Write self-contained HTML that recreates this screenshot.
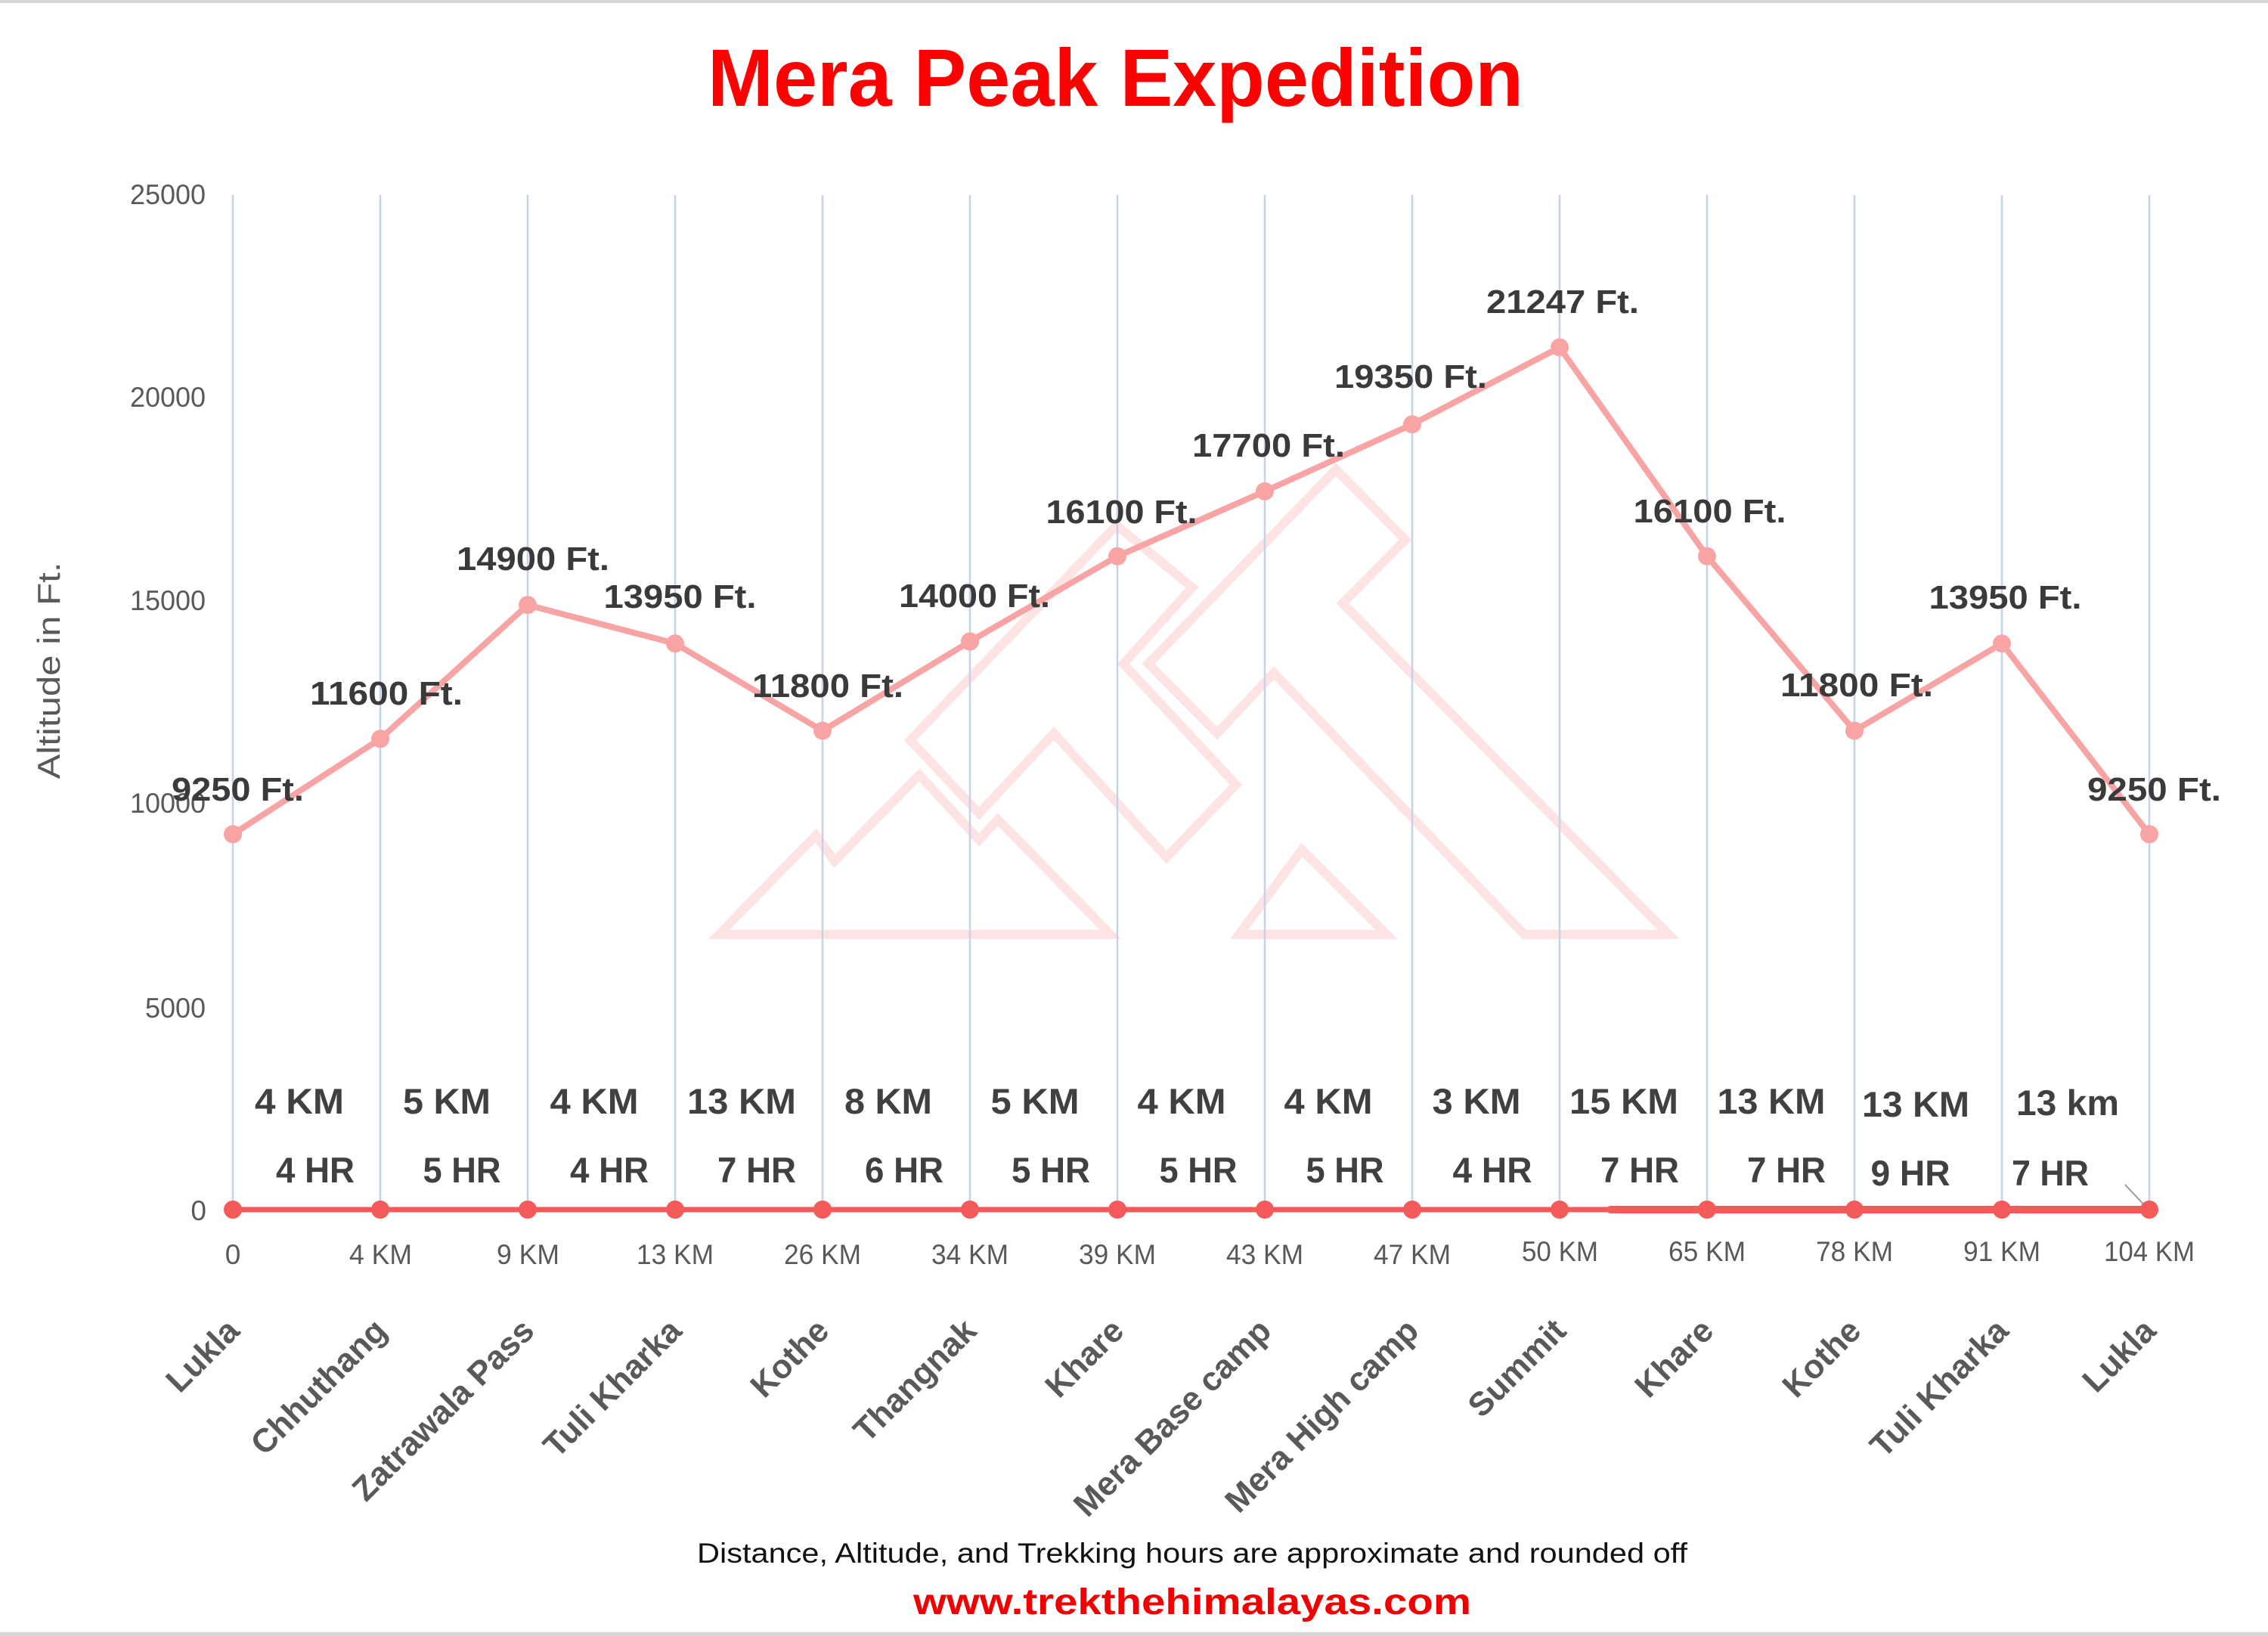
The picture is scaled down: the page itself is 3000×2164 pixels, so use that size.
<!DOCTYPE html>
<html>
<head>
<meta charset="utf-8">
<style>
  html,body{margin:0;padding:0;background:#fff;}
  svg{display:block;}
  text{font-family:"Liberation Sans", Arial, sans-serif;}
</style>
</head>
<body>
<svg width="3000" height="2164" viewBox="0 0 3000 2164" xmlns="http://www.w3.org/2000/svg">
  <rect x="0" y="0" width="3000" height="2164" fill="#ffffff"/>
  <!-- borders -->
  <rect x="0" y="0" width="3000" height="4" fill="#d6d6d6"/>
  <rect x="0" y="2159" width="3000" height="5" fill="#d6d6d6"/>

  <!-- watermark -->
  <g fill="none" stroke="#fde3e3" stroke-width="12" stroke-linejoin="miter">
    <polygon points="951,1236 1079,1105 1104,1139 1216,1025 1295,1111 1320,1084 1469,1236"/>
    <polygon points="1295,1076 1394,970 1543,1134 1635,1038 1486,878 1577,777 1477,695 1204,979"/>
    <polygon points="1519,878 1767,621 1859,714 1776,798 2207,1236 2016,1236 1685,890 1610,970"/>
    <polygon points="1639,1236 1722,1124 1834,1236"/>
  </g>

  <!-- vertical gridlines -->
  <g stroke="#c6d2e8" stroke-width="2.5">
    <line x1="308" y1="258" x2="308" y2="1600"/>
    <line x1="503" y1="258" x2="503" y2="1600"/>
    <line x1="698" y1="258" x2="698" y2="1600"/>
    <line x1="893" y1="258" x2="893" y2="1600"/>
    <line x1="1088" y1="258" x2="1088" y2="1600"/>
    <line x1="1283" y1="258" x2="1283" y2="1600"/>
    <line x1="1478" y1="258" x2="1478" y2="1600"/>
    <line x1="1673" y1="258" x2="1673" y2="1600"/>
    <line x1="1868" y1="258" x2="1868" y2="1600"/>
    <line x1="2063" y1="258" x2="2063" y2="1600"/>
    <line x1="2258" y1="258" x2="2258" y2="1600"/>
    <line x1="2453" y1="258" x2="2453" y2="1600"/>
    <line x1="2648" y1="258" x2="2648" y2="1600"/>
    <line x1="2843" y1="258" x2="2843" y2="1600"/>
  </g>

  <!-- y axis tick labels -->
  <g font-size="37" fill="#595959" text-anchor="end">
    <text x="272" y="270" textLength="100" lengthAdjust="spacingAndGlyphs">25000</text>
    <text x="272" y="538" textLength="100" lengthAdjust="spacingAndGlyphs">20000</text>
    <text x="272" y="807" textLength="100" lengthAdjust="spacingAndGlyphs">15000</text>
    <text x="272" y="1075" textLength="100" lengthAdjust="spacingAndGlyphs">10000</text>
    <text x="272" y="1346" textLength="80" lengthAdjust="spacingAndGlyphs">5000</text>
    <text x="273" y="1614">0</text>
  </g>

  <!-- y axis title -->
  <text transform="translate(79,887) rotate(-90)" text-anchor="middle" font-size="42" fill="#595959" textLength="287" lengthAdjust="spacingAndGlyphs">Altitude in Ft.</text>

  <!-- red baseline series -->
  <g stroke="#f45a5a" fill="none" stroke-linecap="round">
    <line x1="308" y1="1600" x2="2130" y2="1600" stroke-width="7"/>
    <line x1="2130" y1="1600" x2="2843" y2="1600" stroke-width="10"/>
  </g>
  <line x1="2811" y1="1567" x2="2840" y2="1598" stroke="#9a9a9a" stroke-width="2"/>
  <g fill="#f45a5a">
    <circle cx="308" cy="1600" r="12"/>
    <circle cx="503" cy="1600" r="12"/>
    <circle cx="698" cy="1600" r="12"/>
    <circle cx="893" cy="1600" r="12"/>
    <circle cx="1088" cy="1600" r="12"/>
    <circle cx="1283" cy="1600" r="12"/>
    <circle cx="1478" cy="1600" r="12"/>
    <circle cx="1673" cy="1600" r="12"/>
    <circle cx="1868" cy="1600" r="12"/>
    <circle cx="2063" cy="1600" r="12"/>
    <circle cx="2258" cy="1600" r="12"/>
    <circle cx="2453" cy="1600" r="12"/>
    <circle cx="2648" cy="1600" r="12"/>
    <circle cx="2843" cy="1600" r="12"/>
  </g>

  <!-- altitude series -->
  <polyline fill="none" stroke="#f8a4a4" stroke-width="8" stroke-linejoin="round"
    points="308,1103.5 503,977.3 698,800.2 893,851.2 1088,966.6 1283,848.5 1478,735.8 1673,649.9 1868,561.3 2063,459.5 2258,735.8 2453,966.6 2648,851.2 2843,1103.5"/>
  <g fill="#f8a4a4">
    <circle cx="308" cy="1103.5" r="12"/>
    <circle cx="503" cy="977.3" r="12"/>
    <circle cx="698" cy="800.2" r="12"/>
    <circle cx="893" cy="851.2" r="12"/>
    <circle cx="1088" cy="966.6" r="12"/>
    <circle cx="1283" cy="848.5" r="12"/>
    <circle cx="1478" cy="735.8" r="12"/>
    <circle cx="1673" cy="649.9" r="12"/>
    <circle cx="1868" cy="561.3" r="12"/>
    <circle cx="2063" cy="459.5" r="12"/>
    <circle cx="2258" cy="735.8" r="12"/>
    <circle cx="2453" cy="966.6" r="12"/>
    <circle cx="2648" cy="851.2" r="12"/>
    <circle cx="2843" cy="1103.5" r="12"/>
  </g>

  <!-- data labels -->
  <g font-size="44" font-weight="bold" fill="#3a3a3a" text-anchor="middle">
    <text x="314.5" y="1059" textLength="175" lengthAdjust="spacingAndGlyphs">9250 Ft.</text>
    <text x="511" y="932" textLength="202" lengthAdjust="spacingAndGlyphs">11600 Ft.</text>
    <text x="705" y="754" textLength="202" lengthAdjust="spacingAndGlyphs">14900 Ft.</text>
    <text x="899.5" y="804" textLength="202" lengthAdjust="spacingAndGlyphs">13950 Ft.</text>
    <text x="1095" y="922" textLength="200" lengthAdjust="spacingAndGlyphs">11800 Ft.</text>
    <text x="1289" y="803" textLength="200" lengthAdjust="spacingAndGlyphs">14000 Ft.</text>
    <text x="1483.5" y="692" textLength="200" lengthAdjust="spacingAndGlyphs">16100 Ft.</text>
    <text x="1678" y="604" textLength="202" lengthAdjust="spacingAndGlyphs">17700 Ft.</text>
    <text x="1866" y="513" textLength="202" lengthAdjust="spacingAndGlyphs">19350 Ft.</text>
    <text x="2067" y="414" textLength="202" lengthAdjust="spacingAndGlyphs">21247 Ft.</text>
    <text x="2261.5" y="691" textLength="202" lengthAdjust="spacingAndGlyphs">16100 Ft.</text>
    <text x="2456" y="921" textLength="202" lengthAdjust="spacingAndGlyphs">11800 Ft.</text>
    <text x="2652.5" y="805" textLength="202" lengthAdjust="spacingAndGlyphs">13950 Ft.</text>
    <text x="2849.5" y="1059" textLength="177" lengthAdjust="spacingAndGlyphs">9250 Ft.</text>
  </g>

  <!-- segment distance / hours labels -->
  <g font-size="47" font-weight="bold" fill="#404040" text-anchor="middle">
    <text x="396" y="1473" textLength="118" lengthAdjust="spacingAndGlyphs">4 KM</text>
    <text x="591" y="1473" textLength="116" lengthAdjust="spacingAndGlyphs">5 KM</text>
    <text x="786" y="1473" textLength="117" lengthAdjust="spacingAndGlyphs">4 KM</text>
    <text x="981" y="1473" textLength="144" lengthAdjust="spacingAndGlyphs">13 KM</text>
    <text x="1175" y="1473" textLength="116" lengthAdjust="spacingAndGlyphs">8 KM</text>
    <text x="1369" y="1473" textLength="117" lengthAdjust="spacingAndGlyphs">5 KM</text>
    <text x="1563" y="1473" textLength="117" lengthAdjust="spacingAndGlyphs">4 KM</text>
    <text x="1757" y="1473" textLength="117" lengthAdjust="spacingAndGlyphs">4 KM</text>
    <text x="1953" y="1473" textLength="117" lengthAdjust="spacingAndGlyphs">3 KM</text>
    <text x="2148" y="1473" textLength="144" lengthAdjust="spacingAndGlyphs">15 KM</text>
    <text x="2343" y="1473" textLength="143" lengthAdjust="spacingAndGlyphs">13 KM</text>
    <text x="2534" y="1477" textLength="142" lengthAdjust="spacingAndGlyphs">13 KM</text>
    <text x="2735" y="1475" textLength="136" lengthAdjust="spacingAndGlyphs">13 km</text>

    <text x="417" y="1564" textLength="104" lengthAdjust="spacingAndGlyphs">4 HR</text>
    <text x="611" y="1564" textLength="103" lengthAdjust="spacingAndGlyphs">5 HR</text>
    <text x="806" y="1564" textLength="104" lengthAdjust="spacingAndGlyphs">4 HR</text>
    <text x="1001" y="1564" textLength="104" lengthAdjust="spacingAndGlyphs">7 HR</text>
    <text x="1196" y="1564" textLength="104" lengthAdjust="spacingAndGlyphs">6 HR</text>
    <text x="1390" y="1564" textLength="104" lengthAdjust="spacingAndGlyphs">5 HR</text>
    <text x="1585" y="1564" textLength="103" lengthAdjust="spacingAndGlyphs">5 HR</text>
    <text x="1779" y="1564" textLength="103" lengthAdjust="spacingAndGlyphs">5 HR</text>
    <text x="1974" y="1564" textLength="105" lengthAdjust="spacingAndGlyphs">4 HR</text>
    <text x="2169" y="1564" textLength="104" lengthAdjust="spacingAndGlyphs">7 HR</text>
    <text x="2363" y="1564" textLength="104" lengthAdjust="spacingAndGlyphs">7 HR</text>
    <text x="2527" y="1568" textLength="105" lengthAdjust="spacingAndGlyphs">9 HR</text>
    <text x="2712" y="1568" textLength="102" lengthAdjust="spacingAndGlyphs">7 HR</text>
  </g>

  <!-- distance axis labels -->
  <g font-size="37" fill="#595959" text-anchor="middle">
    <text x="308" y="1672">0</text>
    <text x="503.5" y="1672" textLength="83" lengthAdjust="spacingAndGlyphs">4 KM</text>
    <text x="698.5" y="1672" textLength="83" lengthAdjust="spacingAndGlyphs">9 KM</text>
    <text x="893" y="1672" textLength="102" lengthAdjust="spacingAndGlyphs">13 KM</text>
    <text x="1088" y="1672" textLength="102" lengthAdjust="spacingAndGlyphs">26 KM</text>
    <text x="1283" y="1672" textLength="102" lengthAdjust="spacingAndGlyphs">34 KM</text>
    <text x="1478" y="1672" textLength="102" lengthAdjust="spacingAndGlyphs">39 KM</text>
    <text x="1673" y="1672" textLength="102" lengthAdjust="spacingAndGlyphs">43 KM</text>
    <text x="1868" y="1672" textLength="102" lengthAdjust="spacingAndGlyphs">47 KM</text>
    <text x="2063.5" y="1668" textLength="101" lengthAdjust="spacingAndGlyphs">50 KM</text>
    <text x="2258" y="1668" textLength="102" lengthAdjust="spacingAndGlyphs">65 KM</text>
    <text x="2453" y="1668" textLength="102" lengthAdjust="spacingAndGlyphs">78 KM</text>
    <text x="2648" y="1668" textLength="102" lengthAdjust="spacingAndGlyphs">91 KM</text>
    <text x="2843" y="1668" textLength="120" lengthAdjust="spacingAndGlyphs">104 KM</text>
  </g>

  <!-- category labels -->
  <g font-size="44" font-weight="bold" fill="#595959" text-anchor="end">
    <text transform="translate(319,1763) rotate(-45)">Lukla</text>
    <text transform="translate(514,1763) rotate(-45)">Chhuthang</text>
    <text transform="translate(709,1763) rotate(-45)">Zatrawala Pass</text>
    <text transform="translate(904,1763) rotate(-45)">Tuli Kharka</text>
    <text transform="translate(1099,1763) rotate(-45)">Kothe</text>
    <text transform="translate(1294,1763) rotate(-45)">Thangnak</text>
    <text transform="translate(1489,1763) rotate(-45)">Khare</text>
    <text transform="translate(1684,1763) rotate(-45)">Mera Base camp</text>
    <text transform="translate(1879,1763) rotate(-45)">Mera High camp</text>
    <text transform="translate(2074,1763) rotate(-45)">Summit</text>
    <text transform="translate(2269,1763) rotate(-45)">Khare</text>
    <text transform="translate(2464,1763) rotate(-45)">Kothe</text>
    <text transform="translate(2659,1763) rotate(-45)">Tuli Kharka</text>
    <text transform="translate(2854,1763) rotate(-45)">Lukla</text>
  </g>

  <!-- title -->
  <text x="936" y="140" font-size="108" font-weight="bold" fill="#ff0000" textLength="1079" lengthAdjust="spacingAndGlyphs">Mera Peak Expedition</text>

  <!-- footer -->
  <text x="922" y="2067" font-size="37" fill="#111111" textLength="1310" lengthAdjust="spacingAndGlyphs">Distance, Altitude, and Trekking hours are approximate and rounded off</text>
  <text x="1208" y="2135" font-size="48" font-weight="bold" fill="#f00000" textLength="738" lengthAdjust="spacingAndGlyphs">www.trekthehimalayas.com</text>
</svg>
</body>
</html>
